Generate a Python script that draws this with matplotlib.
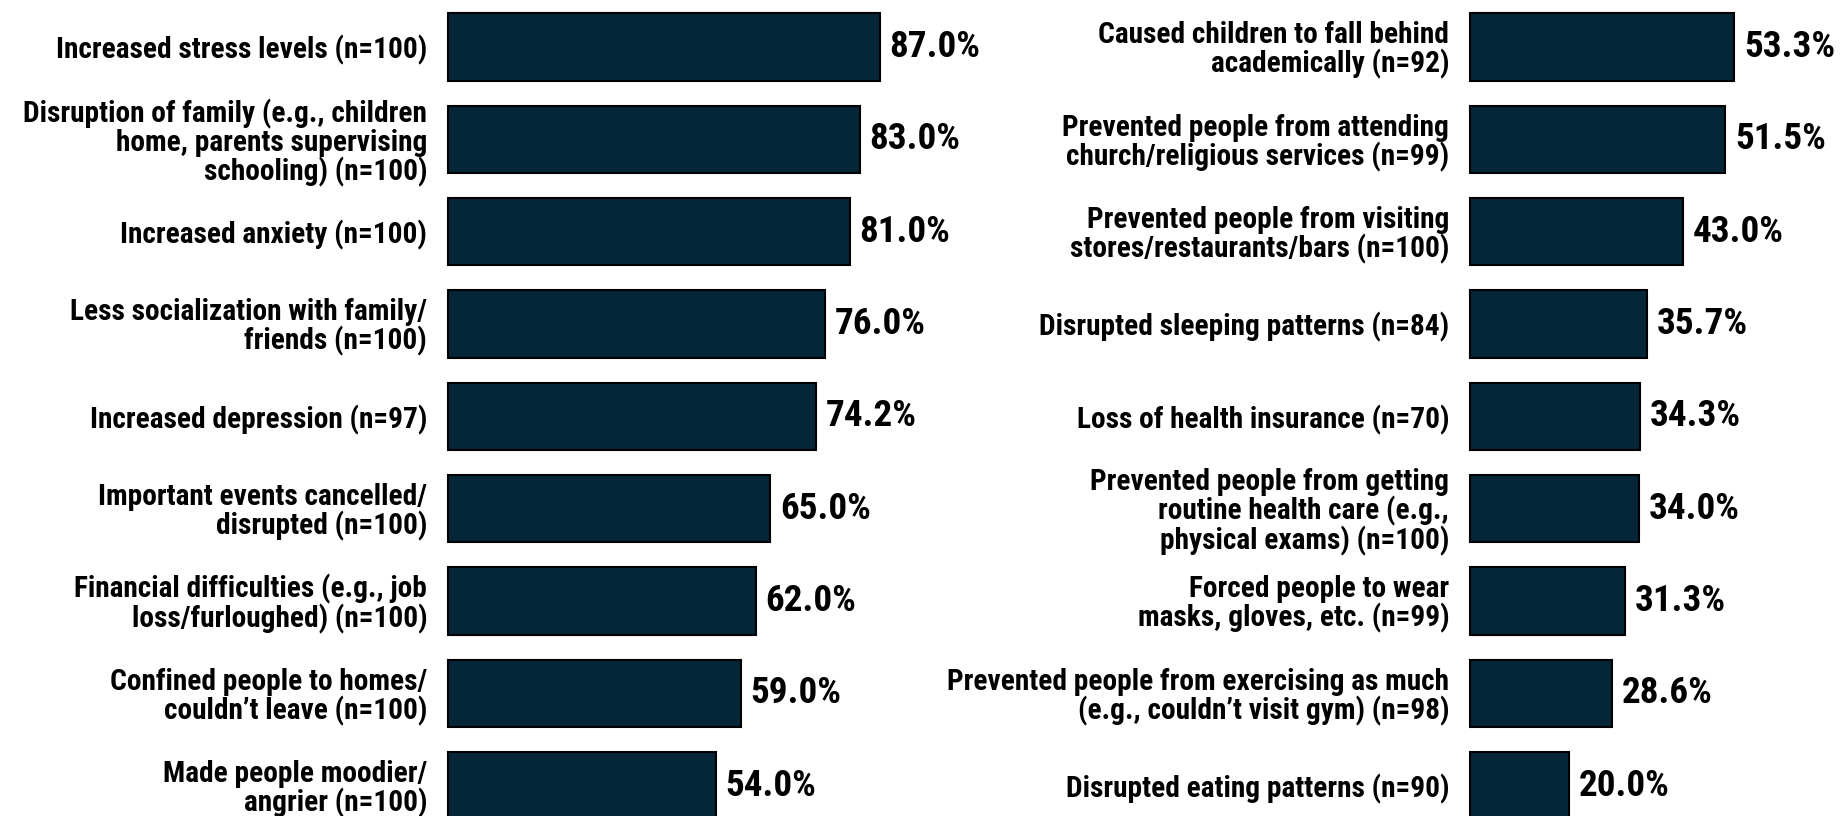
import matplotlib
matplotlib.use("Agg")
import matplotlib.pyplot as plt
from matplotlib import font_manager

left_labels = [
    "Increased stress levels (n=100)",
    "Disruption of family (e.g., children\nhome, parents supervising\nschooling) (n=100)",
    "Increased anxiety (n=100)",
    "Less socialization with family/\nfriends (n=100)",
    "Increased depression (n=97)",
    "Important events cancelled/\ndisrupted (n=100)",
    "Financial difficulties (e.g., job\nloss/furloughed) (n=100)",
    "Confined people to homes/\ncouldn\u2019t leave (n=100)",
    "Made people moodier/\nangrier (n=100)",
]
left_values = [87.0, 83.0, 81.0, 76.0, 74.2, 65.0, 62.0, 59.0, 54.0]

right_labels = [
    "Caused children to fall behind\nacademically (n=92)",
    "Prevented people from attending\nchurch/religious services (n=99)",
    "Prevented people from visiting\nstores/restaurants/bars (n=100)",
    "Disrupted sleeping patterns (n=84)",
    "Loss of health insurance (n=70)",
    "Prevented people from getting\nroutine health care (e.g.,\nphysical exams) (n=100)",
    "Forced people to wear\nmasks, gloves, etc. (n=99)",
    "Prevented people from exercising as much\n(e.g., couldn\u2019t visit gym) (n=98)",
    "Disrupted eating patterns (n=90)",
]
right_values = [53.3, 51.5, 43.0, 35.7, 34.3, 34.0, 31.3, 28.6, 20.0]

# choose the narrowest sans family that is installed
available = {f.name for f in font_manager.fontManager.ttflist}
family = "DejaVu Sans"
for cand in ["Liberation Sans Narrow", "Roboto Condensed", "Open Sans Condensed",
             "Noto Sans Condensed", "Lato", "Liberation Sans"]:
    if cand in available:
        family = cand
        break
plt.rcParams["font.family"] = [family, "DejaVu Sans"]

W, H = 1848, 816
fig = plt.figure(figsize=(W / 100, H / 100), dpi=100)
renderer = fig.canvas.get_renderer()


def fit_size(sample, target_px, base=20):
    t = fig.text(0, 0, sample, fontsize=base, fontweight="bold")
    w = t.get_window_extent(renderer).width
    t.remove()
    return base * target_px / w


label_fs = fit_size("Increased stress levels (n=100)", 370)
value_fs = fit_size("87.0%", 91)

PX_PER_PCT = 4.96
PITCH = 92.33
FIRST = 47.0
bar_color = "#052538"


def panel(x0_px, xmax, labels, values):
    ax = fig.add_axes([x0_px / W, 0, xmax * PX_PER_PCT / W, 1])
    ypos = list(range(len(values)))
    ax.barh(ypos, values, height=0.73, color=bar_color,
            edgecolor="black", linewidth=1.5, clip_on=False)
    ax.set_xlim(0, xmax)
    ax.set_ylim((H - FIRST) / PITCH, -FIRST / PITCH)
    ax.set_yticks(ypos)
    ax.set_yticklabels(labels, fontsize=label_fs, fontweight="bold",
                       linespacing=1.0)
    ax.tick_params(axis="y", length=0, pad=15)
    ax.set_xticks([])
    for s in ax.spines.values():
        s.set_visible(False)
    for y, v in zip(ypos, values):
        ax.text(v + 2.0, y, f"{v:.1f}%", ha="left", va="center",
                fontsize=value_fs, fontweight="bold", clip_on=False)
    return ax


panel(448, 90, left_labels, left_values)
panel(1470, 60, right_labels, right_values)

fig.savefig("out.png", dpi=100, facecolor="white")
